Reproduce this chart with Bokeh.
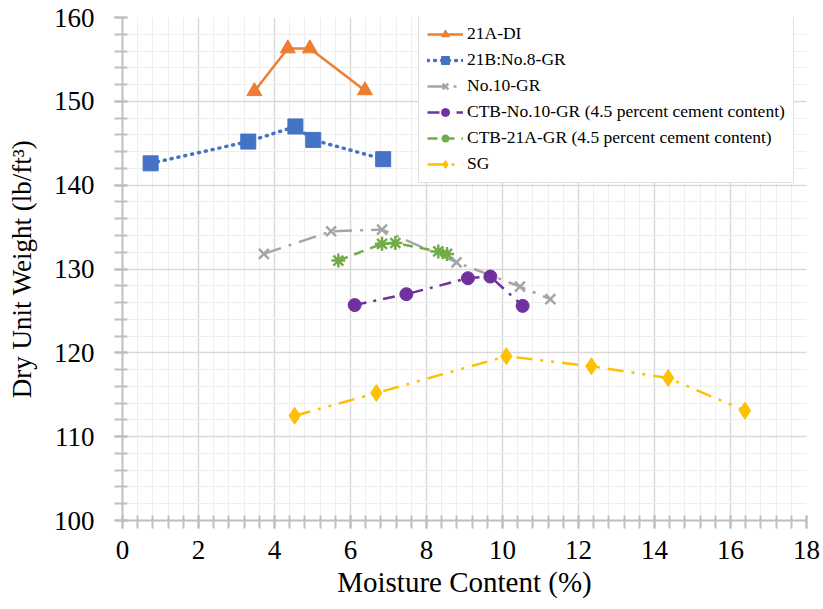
from bokeh.plotting import figure
from bokeh.embed import file_html
from bokeh.resources import INLINE
from bokeh.models import Legend, LegendItem, FixedTicker, Range1d

# ---- data ----
a21_x = [3.47, 4.35, 4.93, 6.38]
a21_y = [151.2, 156.3, 156.3, 151.3]

b21_x = [0.74, 3.31, 4.55, 5.02, 6.86]
b21_y = [142.6, 145.2, 147.0, 145.4, 143.1]

n10_x = [3.72, 5.49, 6.83, 8.79, 10.46, 11.26]
n10_y = [131.8, 134.5, 134.7, 130.8, 127.9, 126.4]

ctbn_x = [6.11, 7.47, 9.09, 9.68, 10.53]
ctbn_y = [125.7, 127.0, 128.9, 129.1, 125.6]

ctba_x = [5.68, 6.83, 7.18, 8.31, 8.54]
ctba_y = [131.0, 133.0, 133.1, 132.1, 131.8]

sg_x = [4.53, 6.68, 10.10, 12.34, 14.36, 16.38]
sg_y = [112.5, 115.2, 119.6, 118.4, 117.0, 113.1]

x_major = list(range(0, 19, 2))
y_major = list(range(100, 161, 10))
x_minor = [round(i * 0.4, 1) for i in range(46)]
y_minor = list(range(100, 161, 2))

FONT = "Liberation Serif"

p = figure(width=823, height=609, output_backend="svg", toolbar_location=None,
           x_range=Range1d(0, 18), y_range=Range1d(100, 160),
           min_border_left=122, min_border_right=17, min_border_top=17, min_border_bottom=89)
p.outline_line_color = None
p.background_fill_color = "white"

# axes
p.xaxis.ticker = FixedTicker(ticks=x_major, minor_ticks=x_minor)
p.yaxis.ticker = FixedTicker(ticks=y_major, minor_ticks=y_minor)
p.axis.axis_line_color = "#bfbfbf"
p.axis.axis_line_width = 2
p.axis.major_tick_line_color = "#bfbfbf"
p.axis.minor_tick_line_color = "#bfbfbf"
p.axis.major_tick_line_width = 2
p.axis.minor_tick_line_width = 2
p.axis.major_tick_in = 5
p.axis.major_tick_out = 8
p.axis.minor_tick_in = 5
p.axis.minor_tick_out = 8
p.axis.major_label_text_font = FONT
p.axis.major_label_text_font_style = "normal"
p.axis.major_label_text_font_size = "27px"
p.axis.major_label_text_color = "black"
p.axis.axis_label_text_font = FONT
p.axis.axis_label_text_font_style = "normal"
p.axis.axis_label_text_color = "black"
p.xaxis.axis_label_text_font_size = "29px"
p.yaxis.axis_label_text_font_size = "27px"

p.xaxis.axis_label = "Moisture Content (%)"
p.yaxis.axis_label = "Dry Unit Weight (lb/ft³)"
p.xaxis.major_label_standoff = 12
p.yaxis.major_label_standoff = 20
p.xaxis.axis_label_standoff = 4
p.yaxis.axis_label_standoff = 14

# grid
p.xgrid.ticker = FixedTicker(ticks=x_major, minor_ticks=x_minor)
p.ygrid.ticker = FixedTicker(ticks=y_major, minor_ticks=y_minor)
p.grid.grid_line_color = "#d9d9d9"
p.grid.grid_line_width = 1.5
p.grid.minor_grid_line_color = "#eeeeee"
p.grid.minor_grid_line_width = 1

items = []

l1 = p.line(a21_x, a21_y, line_color="#ED7D31", line_width=2.5)
m1 = p.scatter(a21_x, a21_y, marker="triangle", size=15, fill_color="#ED7D31", line_color="#ED7D31")
items.append(LegendItem(label="21A-DI", renderers=[l1, m1]))

l2 = p.line(b21_x, b21_y, line_color="#4472C4", line_width=3.5, line_dash="1 6", line_cap="round")
m2 = p.scatter(b21_x, b21_y, marker="square", size=15, fill_color="#4472C4", line_color="#4472C4")
items.append(LegendItem(label="21B:No.8-GR", renderers=[l2, m2]))

l3 = p.line(n10_x, n10_y, line_color="#A5A5A5", line_width=2.5, line_dash="18 8 3 8")
m3 = p.scatter(n10_x, n10_y, marker="x", size=14, line_color="#A5A5A5", line_width=2.5)
items.append(LegendItem(label="No.10-GR", renderers=[l3, m3]))

l4 = p.line(ctbn_x, ctbn_y, line_color="#7030A0", line_width=2.5, line_dash="12 7 3 7")
m4 = p.scatter(ctbn_x, ctbn_y, marker="circle", size=13, fill_color="#7030A0", line_color="#7030A0")
items.append(LegendItem(label="CTB-No.10-GR (4.5 percent cement content)", renderers=[l4, m4]))

l5 = p.line(ctba_x, ctba_y, line_color="#70AD47", line_width=2.5, line_dash="10 7")
m5 = p.scatter(ctba_x, ctba_y, marker="asterisk", size=14, line_color="#70AD47", line_width=2.5)
items.append(LegendItem(label="CTB-21A-GR (4.5 percent cement content)", renderers=[l5, m5]))

l6 = p.line(sg_x, sg_y, line_color="#FFC000", line_width=2.5, line_dash="16 8 3 8 3 8")
m6 = p.scatter(sg_x, sg_y, marker="diamond", size=17, fill_color="#FFC000", line_color="#FFC000")
items.append(LegendItem(label="SG", renderers=[l6, m6]))

legend = Legend(items=items, location=(296, 337))
legend.label_text_font = FONT
legend.label_text_font_size = "17.5px"
legend.label_text_color = "black"
legend.glyph_width = 36
legend.glyph_height = 20
legend.label_height = 20
legend.spacing = 5
legend.padding = 8
legend.margin = 0
legend.label_standoff = 4
legend.border_line_color = "#bfbfbf"
legend.border_line_width = 1
legend.background_fill_color = "white"
legend.background_fill_alpha = 1
p.add_layout(legend)

open("out.html", "w").write(file_html(p, INLINE))
